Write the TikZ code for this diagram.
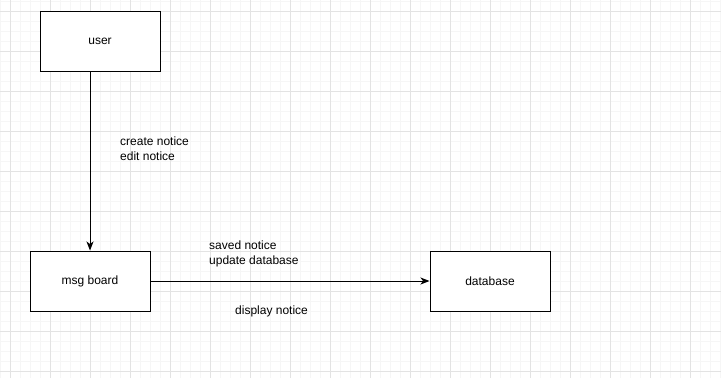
\documentclass[tikz,border=0pt]{standalone}
\usepackage{fontspec}
\setmainfont{Liberation Sans}
\usetikzlibrary{arrows.meta}

\begin{document}
\begin{tikzpicture}[x=1pt,y=-1pt,font=\fontsize{12}{15}\selectfont]
    \tikzstyle{every node}+=[inner sep=0pt]
    \tikzstyle{entity}=[draw=black,line width=1pt,fill=white,minimum width=120pt,minimum height=60pt]
    \tikzstyle{flow}=[draw=black,line width=1pt,-{Stealth[length=9pt,width=7pt,inset=2.5pt]}]
    \tikzstyle{flowtext}=[anchor=west,align=left]
    \useasboundingbox (0,0) rectangle (721,378);
    % paper grid
    \foreach \gx in {0,10,...,720} \draw [black!3.5,line width=0.6pt] (\gx,0) -- (\gx,378);
    \foreach \gy in {1,11,...,371} \draw [black!3.5,line width=0.6pt] (0,\gy) -- (721,\gy);
    \foreach \gx in {10,50,...,690} \draw [black!11,line width=0.8pt] (\gx,0) -- (\gx,378);
    \foreach \gy in {11,51,...,371} \draw [black!11,line width=0.8pt] (0,\gy) -- (721,\gy);
    % the three boxes
    \node [entity] (user) at (100,41) {user};
    \node [entity] (msgboard) at (90,281) {msg board};
    \node [entity] (database) at (490,281) {database};
    % connectors
    \draw [flow] (msgboard.north |- user.south) -- (msgboard.north);
    \draw [flow] (msgboard.east) -- (database.west);
    % labels on the connectors
    \node [flowtext] (lblcreate) at (120,149) {create notice\\edit notice};
    \node [flowtext] (lblsave) at (209,254) {saved notice\\update database};
    \node [flowtext] (lbldisplay) at (235,311) {display notice};
\end{tikzpicture}
\end{document}
